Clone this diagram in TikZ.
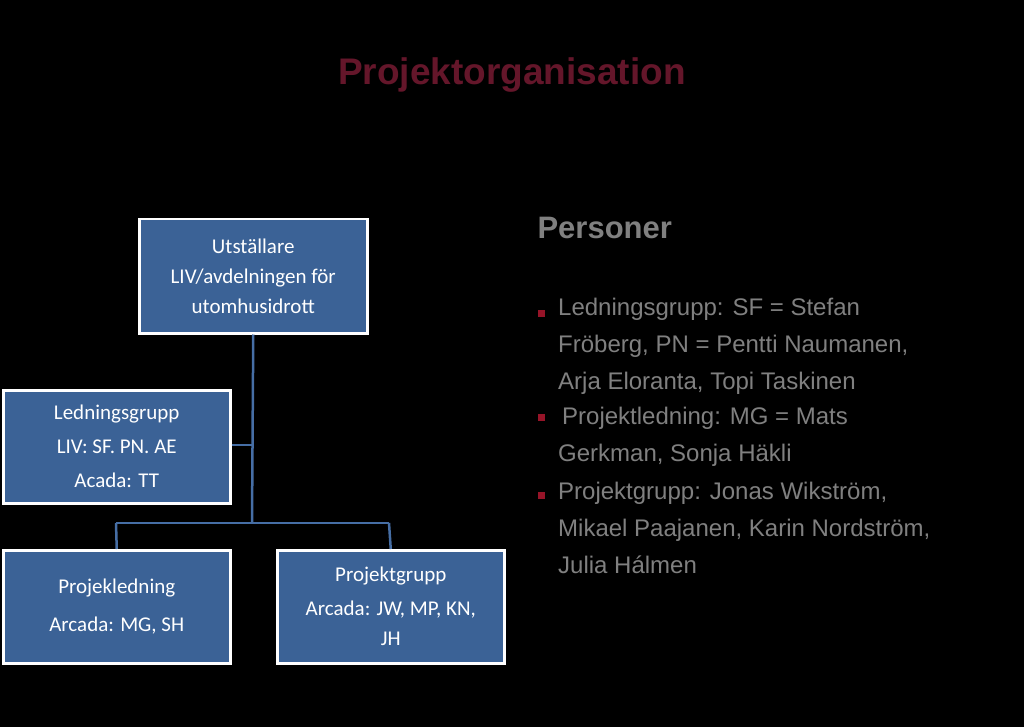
\documentclass[tikz,border=0pt]{standalone}
\usepackage{fontspec}
\setmainfont{Liberation Sans}
\newfontfamily\boxfont{Carlito}
\begin{document}
\begin{tikzpicture}[x=1pt,y=-1pt,
  obox/.style={draw=white,line width=2.5pt,fill={rgb,255:red,59;green,98;blue,150},text=white,font=\boxfont\fontsize{21}{30}\selectfont,align=center,anchor=north west,inner sep=0pt},
  conn/.style={draw={rgb,255:red,70;green,110;blue,165},line width=2.5pt},
  btxt/.style={text={rgb,255:red,128;green,128;blue,128},font=\fontsize{24}{37}\selectfont,align=left,anchor=north west,inner sep=0pt},
  bul/.style={fill={rgb,255:red,150;green,20;blue,40},minimum size=7pt,inner sep=0pt}]
\fill[black] (0,0) rectangle (1024,727);
\node[font=\bfseries\fontsize{37}{44}\selectfont,text={rgb,255:red,100;green,22;blue,42}] (title) at (512,75) {Projektorganisation};
\node[obox,minimum width=228pt,minimum height=114pt] (top) at (138,218) {Utställare\\LIV/avdelningen för\\utomhusidrott};
\node[obox,minimum width=227pt,minimum height=113pt] (lg) at (2,389) {Ledningsgrupp\\[4pt]LIV: SF. PN. AE\\[4pt]Acada: TT};
\node[obox,minimum width=227pt,minimum height=113pt] (pl) at (2,549) {Projekledning\\[8pt]Arcada: MG, SH};
\node[obox,minimum width=227pt,minimum height=113pt] (pg) at (276,549) {Projektgrupp\\[4pt]Arcada: JW, MP, KN,\\JH};
\coordinate (j1) at (252,445);
\coordinate (j2) at (252,523);
\coordinate (l1) at (116,523);
\coordinate (r1) at (389,523);
\draw[conn] (top.south) -- (j2);
\draw[conn] (lg.east |- j1) -- (j1);
\draw[conn] (l1) -- (r1);
\draw[conn] (l1) -- (pl.north);
\draw[conn] (r1) -- (pg.north);
\node[font=\bfseries\fontsize{31}{36}\selectfont,text={rgb,255:red,128;green,128;blue,128},anchor=west] (pers) at (534,228) {Personer};
\node[bul] (b1) at (541,313) {};
\node[btxt] (t1) at (558,298) {Ledningsgrupp: SF = Stefan\\Fröberg, PN = Pentti Naumanen,\\Arja Eloranta, Topi Taskinen};
\node[bul] (b2) at (541,417) {};
\node[btxt] (t2) at (558,407) {\hspace{4pt}Projektledning: MG = Mats\\Gerkman, Sonja Häkli};
\node[bul] (b3) at (541,495) {};
\node[btxt] (t3) at (558,482) {Projektgrupp: Jonas Wikström,\\Mikael Paajanen, Karin Nordström,\\Julia Hálmen};
\end{tikzpicture}
\end{document}
